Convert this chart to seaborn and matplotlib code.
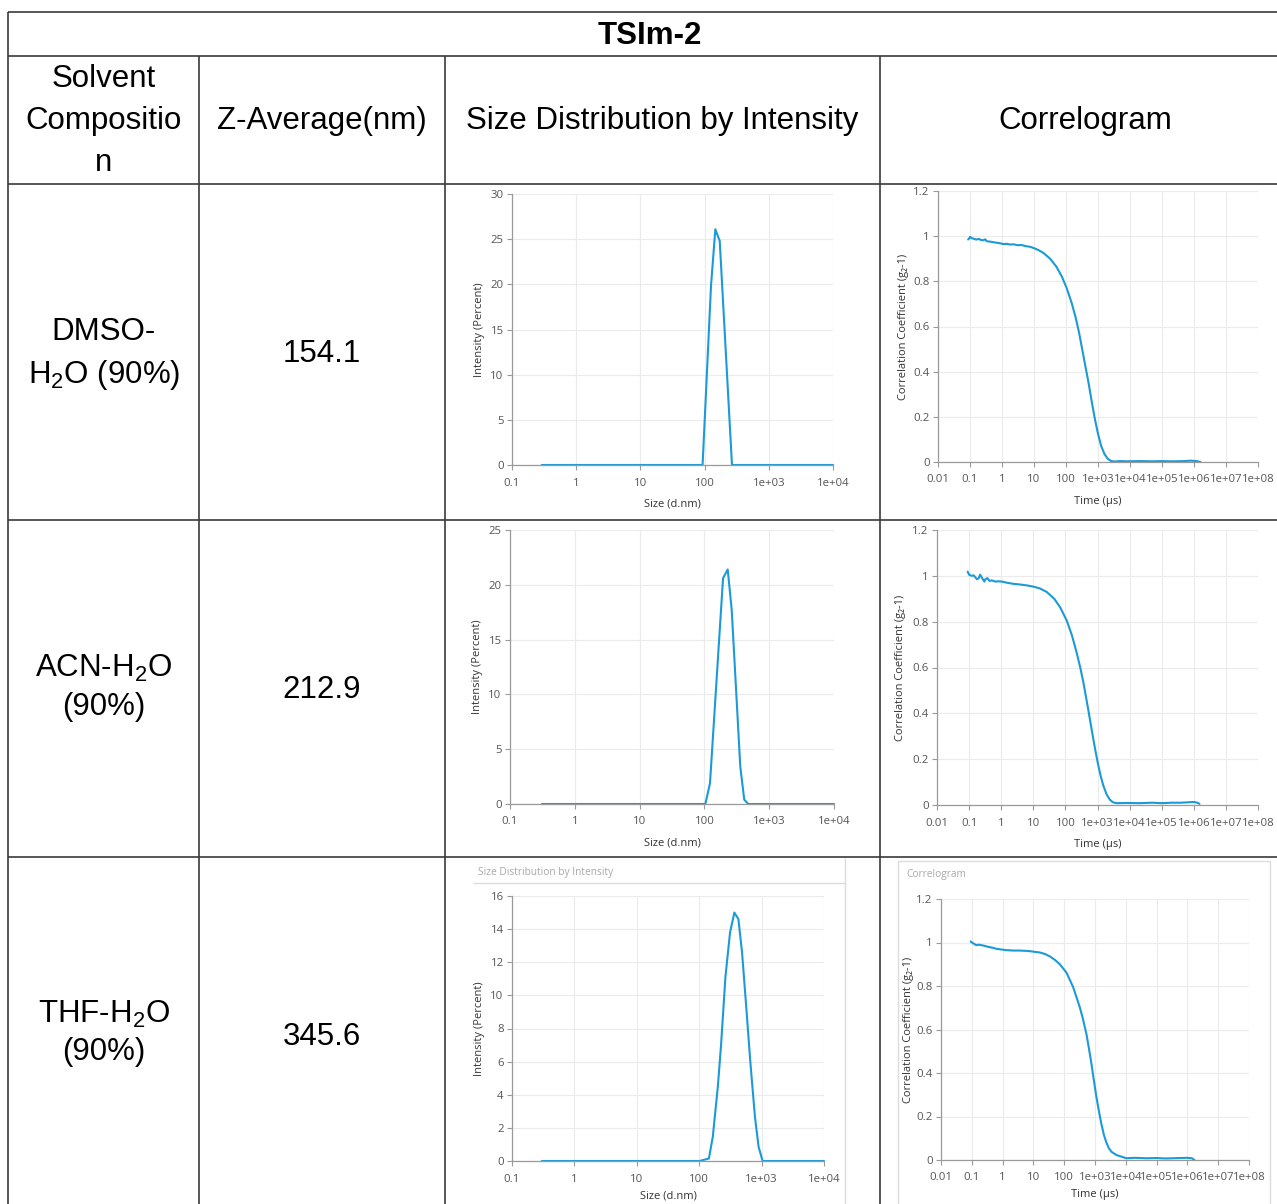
import numpy as np
import pandas as pd
import matplotlib
matplotlib.use("Agg")
import matplotlib.pyplot as plt
from matplotlib.ticker import NullLocator, FixedLocator
from matplotlib.patches import Rectangle
import seaborn as sns

# ---------------- data ----------------
title = "TSIm-2"
header_solvent = ["Solvent", "Compositio", "n"]
header_cols = ["Z-Average(nm)", "Size Distribution by Intensity", "Correlogram"]
solvents = [["DMSO-", "H$_2$O (90%)"], ["ACN-H$_2$O", "(90%)"], ["THF-H$_2$O", "(90%)"]]
z_avg = ["154.1", "212.9", "345.6"]

# size distribution by intensity (size in d.nm, intensity in %)
size_dmso = [0.29, 93, 126, 147, 172, 267, 10000]
int_dmso = [0, 0, 19.9, 26.1, 24.8, 0, 0]
size_acn = [0.31, 103.5, 122, 194, 229, 264, 358, 412, 475, 10000]
int_acn = [0, 0, 1.9, 20.6, 21.4, 17.7, 3.4, 0.4, 0, 0]
size_thf = [0.3, 101, 143, 165, 199, 224, 263, 312, 366, 425, 486, 562, 659, 783, 896, 1038, 10000]
int_thf = [0, 0, 0.15, 1.45, 4.5, 7.0, 11.1, 13.8, 15.0, 14.6, 12.6, 9.5, 6.0, 2.65, 0.85, 0, 0]

# correlograms (time in us, g2-1)
t_dmso = [0.087, 0.095, 0.1, 0.11, 0.12, 0.14, 0.16, 0.19, 0.22, 0.26, 0.3, 0.33, 0.36, 0.42,
          0.5, 0.6, 0.75, 0.9, 1.1, 1.4, 1.8, 2.3, 3, 4, 5.5, 7.5, 10, 14, 20, 32, 50, 75, 105,
          150, 200, 254, 320, 390, 500, 632, 800, 1000, 1250, 1600, 2000, 2500, 3200, 5000,
          8000, 2e4, 5e4, 1e5, 2e5, 5e5, 8e5, 1.2e6, 1.6e6]
g_dmso = [0.985, 0.99, 0.997, 0.993, 0.99, 0.987, 0.985, 0.988, 0.983, 0.982, 0.986, 0.978,
          0.977, 0.976, 0.974, 0.972, 0.97, 0.968, 0.965, 0.966, 0.963, 0.964, 0.96, 0.961,
          0.956, 0.953, 0.947, 0.938, 0.925, 0.9, 0.865, 0.82, 0.77, 0.705, 0.64, 0.575, 0.5,
          0.435, 0.355, 0.27, 0.19, 0.125, 0.072, 0.035, 0.015, 0.005, 0.002, 0.004, 0.003,
          0.004, 0.003, 0.004, 0.003, 0.004, 0.006, 0.004, 0.0]
t_acn = [0.09, 0.1, 0.12, 0.14, 0.175, 0.2, 0.22, 0.26, 0.3, 0.32, 0.37, 0.43, 0.51, 0.65, 0.8,
         1.05, 1.5, 2.4, 4, 6.5, 10, 16, 26, 45, 69, 110, 160, 224, 290, 363, 440, 517, 620,
         736, 880, 1050, 1250, 1500, 1900, 2400, 3000, 3900, 8000, 2e4, 5e4, 1e5, 2e5, 4e5,
         7e5, 1e6, 1.3e6, 1.5e6]
g_acn = [1.018, 1.005, 1.0, 1.002, 0.985, 0.99, 1.005, 0.988, 0.975, 0.985, 0.99, 0.978, 0.98,
         0.975, 0.976, 0.975, 0.97, 0.965, 0.962, 0.958, 0.953, 0.945, 0.93, 0.9, 0.862,
         0.805, 0.74, 0.665, 0.6, 0.535, 0.47, 0.415, 0.35, 0.29, 0.23, 0.175, 0.128, 0.087,
         0.048, 0.024, 0.012, 0.008, 0.009, 0.008, 0.01, 0.008, 0.01, 0.01, 0.012, 0.013,
         0.01, 0.005]
t_thf = [0.092, 0.1, 0.115, 0.13, 0.143, 0.17, 0.2, 0.236, 0.3, 0.4, 0.5, 0.637, 0.9, 1.3, 2.23,
         3.5, 5, 6.8, 10, 16.2, 24, 34.3, 50, 72, 118, 195, 320, 400, 526, 640, 765, 900, 1111,
         1350, 1614, 1950, 2345, 2800, 3406, 4949, 1.04e4, 2e4, 4.6e4, 1e5, 2e5, 5.6e5, 1e6,
         1.4e6, 1.7e6]
g_thf = [1.005, 1.0, 0.995, 0.99, 0.988, 0.99, 0.988, 0.986, 0.982, 0.978, 0.975, 0.971, 0.968,
         0.965, 0.963, 0.963, 0.962, 0.961, 0.958, 0.954, 0.947, 0.936, 0.92, 0.9, 0.862,
         0.795, 0.703, 0.652, 0.58, 0.51, 0.443, 0.375, 0.29, 0.222, 0.165, 0.115, 0.08, 0.055,
         0.038, 0.023, 0.008, 0.01, 0.008, 0.009, 0.007, 0.009, 0.01, 0.008, 0.0]

size_ticks = [0.1, 1, 10, 100, 1e3, 1e4]
size_ticklabels = ["0.1", "1", "10", "100", "1e+03", "1e+04"]
time_ticks = [0.01, 0.1, 1, 10, 100, 1e3, 1e4, 1e5, 1e6, 1e7, 1e8]
time_ticklabels = ["0.01", "0.1", "1", "10", "100", "1e+03", "1e+04", "1e+05", "1e+06", "1e+07", "1e+08"]
corr_ticks = [0, 0.2, 0.4, 0.6, 0.8, 1.0, 1.2]
corr_ticklabels = ["0", "0.2", "0.4", "0.6", "0.8", "1", "1.2"]

# ---------------- style ----------------
W, H, DPI = 1277, 1204, 100
BLUE = "#1b9ad8"
sns.set_theme(style="whitegrid")
plt.rcParams['font.family'] = ['Liberation Sans', 'DejaVu Sans']
plt.rcParams['mathtext.fontset'] = 'custom'
plt.rcParams['mathtext.rm'] = 'Liberation Sans'
plt.rcParams['mathtext.it'] = 'Liberation Sans:italic'
plt.rcParams['mathtext.bf'] = 'Liberation Sans:bold'
plt.rcParams['mathtext.default'] = 'rm'

CHART_FONT = ['Open Sans', 'DejaVu Sans']
TICK_FS = 8.2
LAB_FS = 8.0

fig = plt.figure(figsize=(W / DPI, H / DPI), dpi=DPI)
fig.patch.set_facecolor('white')
bg = fig.add_axes([0, 0, 1, 1])
bg.set_xlim(0, W)
bg.set_ylim(H, 0)
bg.axis('off')
bg.set_zorder(0)

# ---------------- table ----------------
LC = "#3a3a3a"
LW = 1.2
for y in [12, 56, 184, 520, 857]:
    bg.hlines(y, 8, W, color=LC, lw=LW)
bg.vlines(8, 12, H, color=LC, lw=LW)
for x in [199, 445, 880]:
    bg.vlines(x, 56, H, color=LC, lw=LW)

TFS = 22.5
bg.text(650, 44, title, ha='center', va='baseline', fontsize=TFS, fontweight='bold', color='black')
for txt, yb in zip(header_solvent, [87, 129, 171]):
    bg.text(104, yb, txt, ha='center', va='baseline', fontsize=TFS, color='black')
for txt, xc in zip(header_cols, [322, 662, 1085]):
    bg.text(xc, 129, txt, ha='center', va='baseline', fontsize=TFS, color='black')

row_base = [(340, 383, 362), (677, 715, 698), (1023, 1060, 1045)]
for (l1, l2), z, (b1, b2, bz) in zip(solvents, z_avg, row_base):
    bg.text(104, b1, l1, ha='center', va='baseline', fontsize=TFS, color='black')
    bg.text(104, b2, l2, ha='center', va='baseline', fontsize=TFS, color='black')
    bg.text(322, bz, z, ha='center', va='baseline', fontsize=TFS, color='black')

# row-3 screenshot panel frames
PC = "#dcdcdc"
bg.hlines(883, 473, 845, color=PC, lw=1.0)
bg.vlines(845, 858, H, color=PC, lw=1.0)
bg.text(478, 872, "Size Distribution by Intensity", ha='left', va='center',
        fontsize=7.3, color='#a8a8a8', family=CHART_FONT)
bg.add_patch(Rectangle((898, 861), 372, H - 861 + 5, fill=False, ec=PC, lw=1.0))
bg.text(906, 874, "Correlogram", ha='left', va='center', fontsize=7.3, color='#a8a8a8',
        family=CHART_FONT)


def chart(box, xs, ys, xlim, xticks, xticklabels, ylim, yticks, yticklabels,
          xlabel, ylabel, ylab_x, xlab_y):
    l, t, r, b = box
    ax = fig.add_axes([l / W, 1 - b / H, (r - l) / W, (b - t) / H])
    ax.set_zorder(2)
    df = pd.DataFrame({'x': xs, 'y': ys})
    ax.set_xscale('log')
    sns.lineplot(data=df, x='x', y='y', ax=ax, color=BLUE, lw=1.5, estimator=None,
                 sort=False, clip_on=False)
    ax.set_xlim(*xlim)
    ax.set_ylim(*ylim)
    ax.xaxis.set_major_locator(FixedLocator(xticks))
    ax.xaxis.set_minor_locator(NullLocator())
    ax.set_xticklabels(xticklabels)
    ax.set_yticks(yticks)
    ax.set_yticklabels(yticklabels)
    ax.set_facecolor('white')
    ax.grid(True, which='major', color='#ebebeb', lw=0.8)
    ax.grid(False, which='minor')
    for s in ['top', 'right']:
        ax.spines[s].set_visible(False)
    for s in ['left', 'bottom']:
        ax.spines[s].set_visible(True)
        ax.spines[s].set_color('#9a9a9a')
        ax.spines[s].set_linewidth(0.9)
    ax.tick_params(axis='both', which='major', bottom=True, left=True, direction='out',
                   length=3.5, width=0.8, color='#9a9a9a',
                   labelsize=TICK_FS, labelcolor='#555555')
    ax.tick_params(axis='x', pad=5.5)
    ax.tick_params(axis='y', pad=2.5)
    for lab in ax.get_xticklabels() + ax.get_yticklabels():
        lab.set_family(CHART_FONT)
    ax.set_xlabel(xlabel, fontsize=LAB_FS, color='#333333', family=CHART_FONT)
    ax.set_ylabel(ylabel, fontsize=LAB_FS, color='#333333', family=CHART_FONT)
    ax.yaxis.set_label_coords(ylab_x, 0.5)
    ax.xaxis.set_label_coords(0.5, xlab_y)
    return ax


size_label = "Size (d.nm)"
int_label = "Intensity (Percent)"
time_label = "Time (µs)"
corr_label = "Correlation Coefficient (g₂-1)"

# row 1
chart((512, 194, 833, 465), size_dmso, int_dmso, (0.1, 1e4), size_ticks, size_ticklabels,
      (0, 30), [0, 5, 10, 15, 20, 25, 30], ["0", "5", "10", "15", "20", "25", "30"],
      size_label, int_label, -0.084, -0.125)
chart((938, 191, 1258, 462), t_dmso, g_dmso, (0.01, 1e8), time_ticks, time_ticklabels,
      (0, 1.2), corr_ticks, corr_ticklabels, time_label, corr_label, -0.091, -0.125)
# row 2
chart((510, 530, 834, 804), size_acn, int_acn, (0.1, 1e4), size_ticks, size_ticklabels,
      (0, 25), [0, 5, 10, 15, 20, 25], ["0", "5", "10", "15", "20", "25"],
      size_label, int_label, -0.083, -0.124)
chart((937, 530, 1258, 805), t_acn, g_acn, (0.01, 1e8), time_ticks, time_ticklabels,
      (0, 1.2), corr_ticks, corr_ticklabels, time_label, corr_label, -0.097, -0.123)
# row 3
chart((512, 896, 824, 1161), size_thf, int_thf, (0.1, 1e4), size_ticks, size_ticklabels,
      (0, 16), [0, 2, 4, 6, 8, 10, 12, 14, 16], ["0", "2", "4", "6", "8", "10", "12", "14", "16"],
      size_label, int_label, -0.087, -0.112)
chart((941, 899, 1249, 1160), t_thf, g_thf, (0.01, 1e8), time_ticks, time_ticklabels,
      (0, 1.2), corr_ticks, corr_ticklabels, time_label, corr_label, -0.088, -0.113)

fig.savefig("out.png", dpi=DPI, facecolor='white')
